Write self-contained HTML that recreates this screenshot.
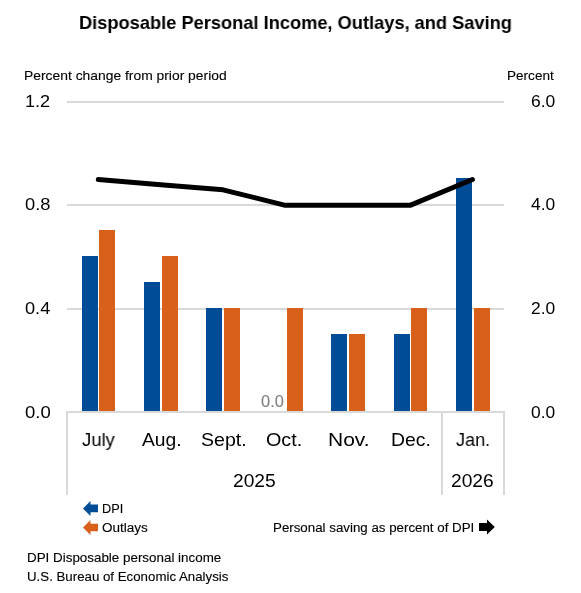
<!DOCTYPE html>
<html><head><meta charset="utf-8"><style>
html,body{margin:0;padding:0;background:#fff;width:581px;height:593px;overflow:hidden;position:relative}
span{position:absolute;will-change:transform;font-family:"Liberation Sans",sans-serif;white-space:nowrap;line-height:1;transform-origin:0 0}
</style></head><body>
<svg width="581" height="593" style="position:absolute;left:0;top:0"><rect x="67" y="101" width="437" height="2" fill="#D9D9D9"/><rect x="67" y="204" width="437" height="2" fill="#D9D9D9"/><rect x="67" y="308" width="437" height="2" fill="#D9D9D9"/><rect x="82" y="256" width="16" height="155" fill="#004C97"/><rect x="99" y="230" width="16" height="181" fill="#D9601A"/><rect x="144" y="282" width="16" height="129" fill="#004C97"/><rect x="162" y="256" width="16" height="155" fill="#D9601A"/><rect x="206" y="308" width="16" height="103" fill="#004C97"/><rect x="224" y="308" width="16" height="103" fill="#D9601A"/><rect x="287" y="308" width="16" height="103" fill="#D9601A"/><rect x="331" y="334" width="16" height="77" fill="#004C97"/><rect x="349" y="334" width="16" height="77" fill="#D9601A"/><rect x="394" y="334" width="16" height="77" fill="#004C97"/><rect x="411" y="308" width="16" height="103" fill="#D9601A"/><rect x="456" y="178" width="16" height="233" fill="#004C97"/><rect x="474" y="308" width="16" height="103" fill="#D9601A"/><rect x="66" y="411" width="439" height="2" fill="#D9D9D9"/><rect x="66" y="411" width="2" height="84" fill="#D9D9D9"/><rect x="441" y="411" width="2" height="84" fill="#D9D9D9"/><rect x="503" y="411" width="2" height="84" fill="#D9D9D9"/><polyline points="98.30,179.50 160.65,184.67 223.00,189.83 285.35,205.33 347.70,205.33 410.05,205.33 472.40,179.50" fill="none" stroke="#000" stroke-width="5" stroke-linejoin="round" stroke-linecap="round"/><polygon points="83,508.5 90.5,501 90.5,504.6 98,504.6 98,512.2 90.5,512.2 90.5,516" fill="#004C97"/><polygon points="83,527.5 90.5,520 90.5,523.8 98,523.8 98,531.2 90.5,531.2 90.5,535" fill="#D9601A"/><polygon points="479,523 487,523 487,519.5 494.8,527 487,534.5 487,531 479,531" fill="#000"/></svg>
<span style="left:79.02px;top:13.79px;font-size:18.84px;font-weight:700;color:#000;transform:scaleX(0.9691);-webkit-text-stroke:0px currentColor">Disposable Personal Income, Outlays, and Saving</span>
<span style="left:23.79px;top:69.22px;font-size:13.62px;font-weight:400;color:#000;transform:scaleX(1.0186);-webkit-text-stroke:0.12px currentColor">Percent change from prior period</span>
<span style="left:506.71px;top:68.87px;font-size:13.33px;font-weight:400;color:#000;transform:scaleX(1.0179);-webkit-text-stroke:0.12px currentColor">Percent</span>
<span style="left:25.05px;top:92.72px;font-size:17.39px;font-weight:400;color:#000;transform:scaleX(1.0405);-webkit-text-stroke:0px currentColor">1.2</span>
<span style="left:24.77px;top:195.72px;font-size:17.39px;font-weight:400;color:#000;transform:scaleX(1.0534);-webkit-text-stroke:0px currentColor">0.8</span>
<span style="left:24.77px;top:300.42px;font-size:17.39px;font-weight:400;color:#000;transform:scaleX(1.0455);-webkit-text-stroke:0px currentColor">0.4</span>
<span style="left:24.76px;top:404.02px;font-size:17.39px;font-weight:400;color:#000;transform:scaleX(1.0666);-webkit-text-stroke:0px currentColor">0.0</span>
<span style="left:530.93px;top:92.72px;font-size:17.39px;font-weight:400;color:#000;transform:scaleX(1.0040);-webkit-text-stroke:0px currentColor">6.0</span>
<span style="left:531.46px;top:195.72px;font-size:17.39px;font-weight:400;color:#000;transform:scaleX(0.9814);-webkit-text-stroke:0px currentColor">4.0</span>
<span style="left:530.93px;top:300.42px;font-size:17.39px;font-weight:400;color:#000;transform:scaleX(1.0040);-webkit-text-stroke:0px currentColor">2.0</span>
<span style="left:531.11px;top:404.02px;font-size:17.39px;font-weight:400;color:#000;transform:scaleX(0.9964);-webkit-text-stroke:0px currentColor">0.0</span>
<span style="left:81.63px;top:430.79px;font-size:18.84px;font-weight:400;color:#000;transform:scaleX(0.9796);-webkit-text-stroke:0px currentColor">July</span>
<span style="left:142.00px;top:430.79px;font-size:18.84px;font-weight:400;color:#000;transform:scaleX(1.0238);-webkit-text-stroke:0px currentColor">Aug.</span>
<span style="left:200.62px;top:430.79px;font-size:18.84px;font-weight:400;color:#000;transform:scaleX(1.0373);-webkit-text-stroke:0px currentColor">Sept.</span>
<span style="left:265.61px;top:430.79px;font-size:18.84px;font-weight:400;color:#000;transform:scaleX(1.0490);-webkit-text-stroke:0px currentColor">Oct.</span>
<span style="left:327.72px;top:430.79px;font-size:18.84px;font-weight:400;color:#000;transform:scaleX(1.1143);-webkit-text-stroke:0px currentColor">Nov.</span>
<span style="left:391.05px;top:430.79px;font-size:18.84px;font-weight:400;color:#000;transform:scaleX(1.0277);-webkit-text-stroke:0px currentColor">Dec.</span>
<span style="left:455.84px;top:430.79px;font-size:18.84px;font-weight:400;color:#000;transform:scaleX(0.9572);-webkit-text-stroke:0px currentColor">Jan.</span>
<span style="left:232.84px;top:471.79px;font-size:18.84px;font-weight:400;color:#000;transform:scaleX(1.0192);-webkit-text-stroke:0px currentColor">2025</span>
<span style="left:451.44px;top:471.79px;font-size:18.84px;font-weight:400;color:#000;transform:scaleX(1.0192);-webkit-text-stroke:0px currentColor">2026</span>
<span style="left:101.99px;top:502.76px;font-size:12.75px;font-weight:400;color:#000;transform:scaleX(0.9932);-webkit-text-stroke:0.12px currentColor">DPI</span>
<span style="left:102.33px;top:521.58px;font-size:12.61px;font-weight:400;color:#000;transform:scaleX(1.0695);-webkit-text-stroke:0.12px currentColor">Outlays</span>
<span style="left:272.94px;top:521.58px;font-size:12.61px;font-weight:400;color:#000;transform:scaleX(1.0557);-webkit-text-stroke:0.12px currentColor">Personal saving as percent of DPI</span>
<span style="left:26.73px;top:552.01px;font-size:12.46px;font-weight:400;color:#000;transform:scaleX(1.0752);-webkit-text-stroke:0.12px currentColor">DPI Disposable personal income</span>
<span style="left:26.74px;top:571.03px;font-size:12.32px;font-weight:400;color:#000;transform:scaleX(1.0780);-webkit-text-stroke:0.12px currentColor">U.S. Bureau of Economic Analysis</span>
<span style="left:261.14px;top:394.45px;font-size:15.94px;font-weight:400;color:#808080;transform:scaleX(1.0295);-webkit-text-stroke:0.12px currentColor">0.0</span>
</body></html>
